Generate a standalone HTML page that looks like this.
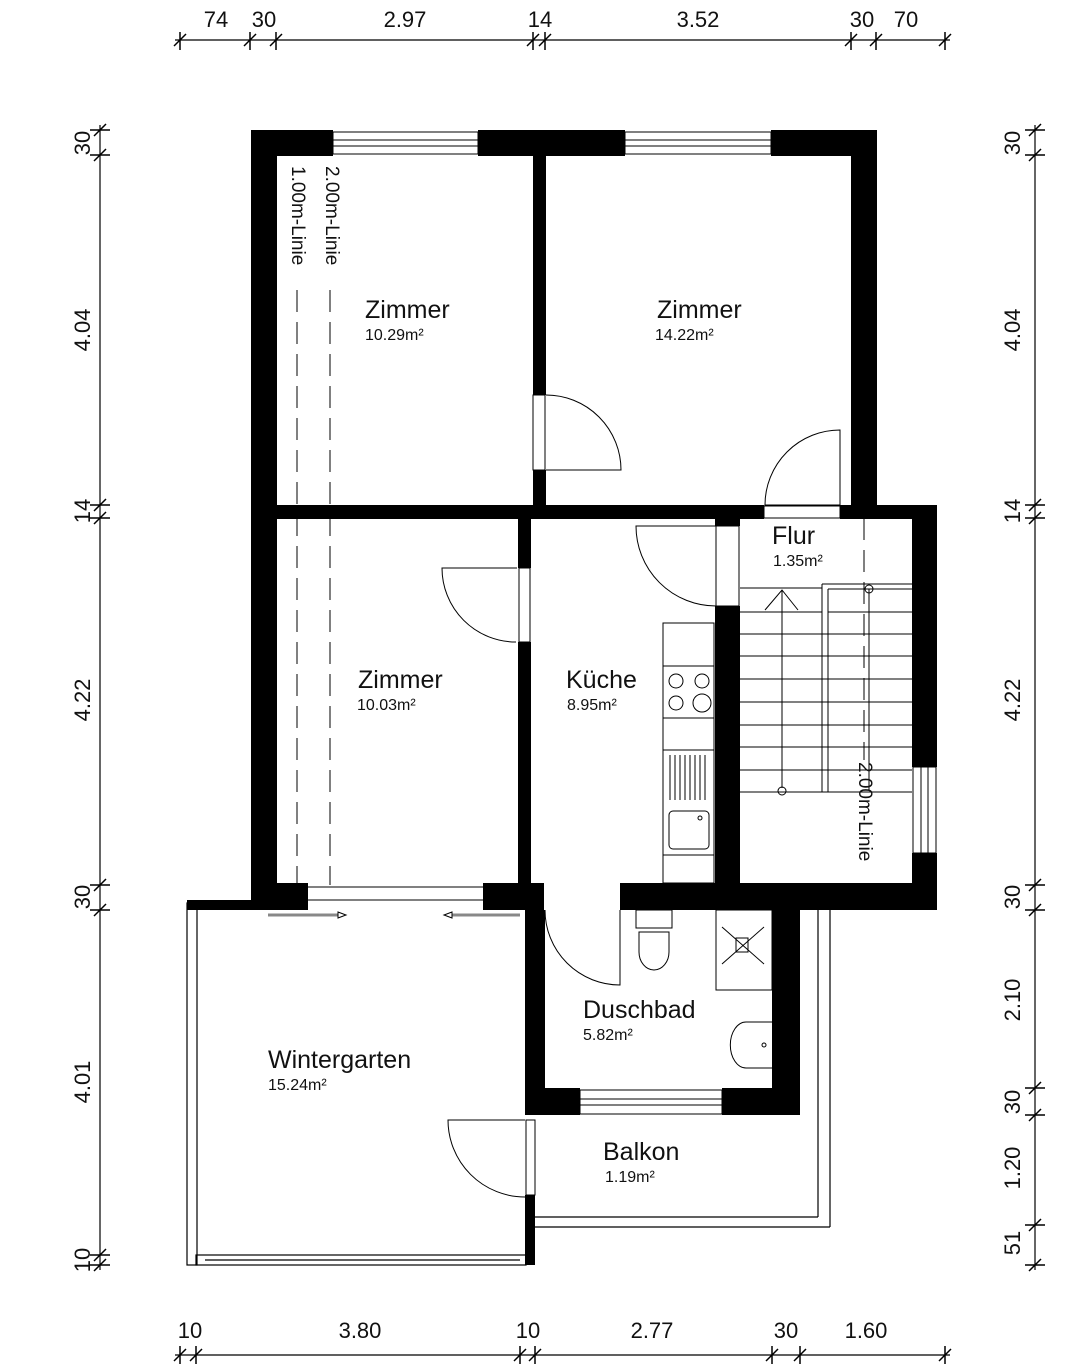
<!DOCTYPE html>
<html><head><meta charset="utf-8"><style>
html,body{margin:0;padding:0;background:#fff}
svg{display:block}
text{font-family:"Liberation Sans",sans-serif;fill:#111}
.t{font-size:25px}.a{font-size:16px}.d{font-size:22px}
</style></head><body>
<svg width="1080" height="1366" viewBox="0 0 1080 1366" xmlns="http://www.w3.org/2000/svg">
<g stroke="#000" stroke-width="1.2" fill="none">
<line x1="175" y1="40" x2="950" y2="40"/>
<g stroke-width="1.5">
<line x1="180" y1="32" x2="180" y2="50"/><line x1="174" y1="46" x2="186" y2="34"/>
<line x1="250" y1="32" x2="250" y2="50"/><line x1="244" y1="46" x2="256" y2="34"/>
<line x1="276" y1="32" x2="276" y2="50"/><line x1="270" y1="46" x2="282" y2="34"/>
<line x1="533" y1="32" x2="533" y2="50"/><line x1="527" y1="46" x2="539" y2="34"/>
<line x1="545" y1="32" x2="545" y2="50"/><line x1="539" y1="46" x2="551" y2="34"/>
<line x1="851" y1="32" x2="851" y2="50"/><line x1="845" y1="46" x2="857" y2="34"/>
<line x1="876" y1="32" x2="876" y2="50"/><line x1="870" y1="46" x2="882" y2="34"/>
<line x1="945" y1="32" x2="945" y2="50"/><line x1="939" y1="46" x2="951" y2="34"/>
</g>
<line x1="175" y1="1355" x2="950" y2="1355"/>
<g stroke-width="1.5">
<line x1="180" y1="1346" x2="180" y2="1364"/><line x1="174" y1="1361" x2="186" y2="1349"/>
<line x1="196" y1="1346" x2="196" y2="1364"/><line x1="190" y1="1361" x2="202" y2="1349"/>
<line x1="520" y1="1346" x2="520" y2="1364"/><line x1="514" y1="1361" x2="526" y2="1349"/>
<line x1="535" y1="1346" x2="535" y2="1364"/><line x1="529" y1="1361" x2="541" y2="1349"/>
<line x1="772" y1="1346" x2="772" y2="1364"/><line x1="766" y1="1361" x2="778" y2="1349"/>
<line x1="800" y1="1346" x2="800" y2="1364"/><line x1="794" y1="1361" x2="806" y2="1349"/>
<line x1="945" y1="1346" x2="945" y2="1364"/><line x1="939" y1="1361" x2="951" y2="1349"/>
</g>
<line x1="100" y1="125" x2="100" y2="1270"/>
<g stroke-width="1.5">
<line x1="90" y1="130" x2="110" y2="130"/><line x1="94" y1="136" x2="106" y2="124"/>
<line x1="90" y1="155" x2="110" y2="155"/><line x1="94" y1="161" x2="106" y2="149"/>
<line x1="90" y1="505" x2="110" y2="505"/><line x1="94" y1="511" x2="106" y2="499"/>
<line x1="90" y1="518" x2="110" y2="518"/><line x1="94" y1="524" x2="106" y2="512"/>
<line x1="90" y1="885" x2="110" y2="885"/><line x1="94" y1="891" x2="106" y2="879"/>
<line x1="90" y1="910" x2="110" y2="910"/><line x1="94" y1="916" x2="106" y2="904"/>
<line x1="90" y1="1255" x2="110" y2="1255"/><line x1="94" y1="1261" x2="106" y2="1249"/>
<line x1="90" y1="1265" x2="110" y2="1265"/><line x1="94" y1="1271" x2="106" y2="1259"/>
</g>
<line x1="1035" y1="125" x2="1035" y2="1270"/>
<g stroke-width="1.5">
<line x1="1025" y1="130" x2="1045" y2="130"/><line x1="1029" y1="136" x2="1041" y2="124"/>
<line x1="1025" y1="155" x2="1045" y2="155"/><line x1="1029" y1="161" x2="1041" y2="149"/>
<line x1="1025" y1="505" x2="1045" y2="505"/><line x1="1029" y1="511" x2="1041" y2="499"/>
<line x1="1025" y1="518" x2="1045" y2="518"/><line x1="1029" y1="524" x2="1041" y2="512"/>
<line x1="1025" y1="885" x2="1045" y2="885"/><line x1="1029" y1="891" x2="1041" y2="879"/>
<line x1="1025" y1="910" x2="1045" y2="910"/><line x1="1029" y1="916" x2="1041" y2="904"/>
<line x1="1025" y1="1088" x2="1045" y2="1088"/><line x1="1029" y1="1094" x2="1041" y2="1082"/>
<line x1="1025" y1="1115" x2="1045" y2="1115"/><line x1="1029" y1="1121" x2="1041" y2="1109"/>
<line x1="1025" y1="1225" x2="1045" y2="1225"/><line x1="1029" y1="1231" x2="1041" y2="1219"/>
<line x1="1025" y1="1265" x2="1045" y2="1265"/><line x1="1029" y1="1271" x2="1041" y2="1259"/>
</g>
</g>

<g class="d" text-anchor="middle">
<text x="216" y="27">74</text><text x="264" y="27">30</text><text x="405" y="27">2.97</text>
<text x="540" y="27">14</text><text x="698" y="27">3.52</text><text x="862" y="27">30</text><text x="906" y="27">70</text>
<text x="190" y="1338">10</text><text x="360" y="1338">3.80</text><text x="528" y="1338">10</text>
<text x="652" y="1338">2.77</text><text x="786" y="1338">30</text><text x="866" y="1338">1.60</text>
<text transform="translate(90,143) rotate(-90)">30</text>
<text transform="translate(90,330) rotate(-90)">4.04</text>
<text transform="translate(90,511) rotate(-90)">14</text>
<text transform="translate(90,700) rotate(-90)">4.22</text>
<text transform="translate(90,897) rotate(-90)">30</text>
<text transform="translate(90,1082) rotate(-90)">4.01</text>
<text transform="translate(90,1260) rotate(-90)">10</text>
<text transform="translate(1020,143) rotate(-90)">30</text>
<text transform="translate(1020,330) rotate(-90)">4.04</text>
<text transform="translate(1020,511) rotate(-90)">14</text>
<text transform="translate(1020,700) rotate(-90)">4.22</text>
<text transform="translate(1020,897) rotate(-90)">30</text>
<text transform="translate(1020,1000) rotate(-90)">2.10</text>
<text transform="translate(1020,1102) rotate(-90)">30</text>
<text transform="translate(1020,1168) rotate(-90)">1.20</text>
<text transform="translate(1020,1243) rotate(-90)">51</text>
</g>

<g fill="none" stroke="#000" stroke-width="1.2">
<rect x="187" y="903" width="10" height="362"/>
<rect x="196" y="1255" width="330" height="10"/>
<line x1="205" y1="1260" x2="520" y2="1260"/>
<line x1="535" y1="1217" x2="818" y2="1217"/>
<line x1="535" y1="1227" x2="830" y2="1227"/>
<line x1="818" y1="910" x2="818" y2="1217"/>
<line x1="830" y1="910" x2="830" y2="1227"/>
</g>

<g fill="#000">
<rect x="251" y="130" width="82" height="26"/>
<rect x="478" y="130" width="147" height="26"/>
<rect x="771" y="130" width="105" height="26"/>
<rect x="251" y="130" width="26" height="780"/>
<rect x="533" y="155" width="13" height="240"/>
<rect x="533" y="470" width="13" height="40"/>
<rect x="851" y="130" width="26" height="380"/>
<rect x="251" y="505" width="513" height="14"/>
<rect x="840" y="505" width="97" height="14"/>
<rect x="518" y="518" width="13" height="50"/>
<rect x="518" y="642" width="13" height="245"/>
<rect x="715" y="606" width="25" height="280"/>
<rect x="715" y="518" width="25" height="8"/>
<rect x="912" y="505" width="25" height="262"/>
<rect x="912" y="853" width="25" height="57"/>
<rect x="251" y="883" width="57" height="27"/>
<rect x="483" y="883" width="61" height="27"/>
<rect x="620" y="883" width="317" height="27"/>
<rect x="187" y="900" width="120" height="10"/>
<rect x="525" y="910" width="20" height="205"/>
<rect x="772" y="910" width="28" height="205"/>
<rect x="525" y="1088" width="55" height="27"/>
<rect x="722" y="1088" width="78" height="27"/>
<rect x="525" y="1195" width="10" height="70"/>
</g>

<g fill="none" stroke="#000" stroke-width="1">
<rect x="333" y="132" width="145" height="22"/><line x1="333" y1="140" x2="478" y2="140"/><line x1="333" y1="146" x2="478" y2="146"/>
<rect x="625" y="132" width="146" height="22"/><line x1="625" y1="140" x2="771" y2="140"/><line x1="625" y1="146" x2="771" y2="146"/>
<rect x="913" y="767" width="23" height="86"/><line x1="921" y1="767" x2="921" y2="853"/><line x1="928" y1="767" x2="928" y2="853"/>
<rect x="580" y="1090" width="142" height="24"/><line x1="580" y1="1099" x2="722" y2="1099"/><line x1="580" y1="1105" x2="722" y2="1105"/>
<line x1="308" y1="887" x2="483" y2="887"/><line x1="308" y1="900" x2="483" y2="900"/>
<rect x="533" y="395" width="12" height="75"/>
<rect x="764" y="506" width="76" height="12"/>
<rect x="519" y="568" width="11" height="74"/>
<rect x="716" y="526" width="23" height="80"/>
<rect x="526" y="1120" width="9" height="75"/>
<path d="M546 395 A75 75 0 0 1 621 470 L546 470"/>
<path d="M840 430 A75 75 0 0 0 765 505 L840 505 Z"/>
<path d="M517 568 L442 568 A74 74 0 0 0 516 642"/>
<path d="M716 526 L636 526 A80 80 0 0 0 716 606"/>
<path d="M545 910 A75 75 0 0 0 620 985 L620 910"/>
<path d="M525 1120 L448 1120 A77 77 0 0 0 525 1197"/>
<line x1="297" y1="290" x2="297" y2="885" stroke-dasharray="22,10"/>
<line x1="330" y1="290" x2="330" y2="885" stroke-dasharray="22,10"/>
<line x1="864" y1="518" x2="864" y2="760" stroke-dasharray="22,10"/>
<line x1="740" y1="588" x2="822" y2="588"/>
<line x1="822" y1="584" x2="912" y2="584"/>
<line x1="822" y1="584" x2="822" y2="792"/><line x1="828" y1="589" x2="828" y2="792"/>
<line x1="828" y1="589" x2="912" y2="589"/>
<g>
<line x1="740" y1="634" x2="912" y2="634"/><line x1="740" y1="656" x2="912" y2="656"/>
<line x1="740" y1="679" x2="912" y2="679"/><line x1="740" y1="702" x2="912" y2="702"/>
<line x1="740" y1="725" x2="912" y2="725"/><line x1="740" y1="747" x2="912" y2="747"/>
<line x1="740" y1="770" x2="912" y2="770"/><line x1="740" y1="792" x2="912" y2="792"/>
<line x1="740" y1="612" x2="822" y2="612"/><line x1="828" y1="612" x2="912" y2="612"/>
</g>
<line x1="782" y1="590" x2="782" y2="788"/>
<polyline points="765,610 782,590 798,610"/>
<circle cx="782" cy="791" r="4"/>
<line x1="869" y1="589" x2="869" y2="790"/>
<circle cx="869" cy="589" r="4"/>
<rect x="663" y="623" width="51" height="260"/>
<line x1="663" y1="666" x2="714" y2="666"/><line x1="663" y1="718" x2="714" y2="718"/>
<line x1="663" y1="750" x2="714" y2="750"/><line x1="663" y1="855" x2="714" y2="855"/>
<circle cx="676" cy="681" r="7"/><circle cx="702" cy="681" r="7"/>
<circle cx="676" cy="703" r="7"/><circle cx="702" cy="703" r="9"/>
<path d="M670 755v45M675 755v45M680 755v45M685 755v45M690 755v45M695 755v45M700 755v45M705 755v45"/>
<rect x="669" y="811" width="40" height="38" rx="4"/><circle cx="700" cy="818" r="2"/>
<rect x="636" y="910" width="36" height="18"/>
<path d="M639 932 h30 v20 a15 18 0 0 1 -30 0 Z"/>
<rect x="716" y="910" width="56" height="80"/>
<line x1="722" y1="927" x2="764" y2="964"/><line x1="764" y1="927" x2="722" y2="964"/>
<rect x="736" y="938" width="12" height="14"/>
<path d="M772 1022 h-26 a15 22 0 0 0 0 46 h26"/><circle cx="764" cy="1045" r="2"/>
<line x1="268" y1="915" x2="338" y2="915" stroke-width="3" stroke="#888"/>
<path d="M338 912 l8 3 -8 3 z"/>
<line x1="452" y1="915" x2="520" y2="915" stroke-width="3" stroke="#888"/>
<path d="M452 912 l-8 3 8 3 z"/>
</g>

<text class="t" x="365" y="318">Zimmer</text><text class="a" x="365" y="340">10.29m²</text>
<text class="t" x="657" y="318">Zimmer</text><text class="a" x="655" y="340">14.22m²</text>
<text class="t" x="358" y="688">Zimmer</text><text class="a" x="357" y="710">10.03m²</text>
<text class="t" x="566" y="688">Küche</text><text class="a" x="567" y="710">8.95m²</text>
<text class="t" x="772" y="544">Flur</text><text class="a" x="773" y="566">1.35m²</text>
<text class="t" x="583" y="1018">Duschbad</text><text class="a" x="583" y="1040">5.82m²</text>
<text class="t" x="268" y="1068">Wintergarten</text><text class="a" x="268" y="1090">15.24m²</text>
<text class="t" x="603" y="1160">Balkon</text><text class="a" x="605" y="1182">1.19m²</text>
<text transform="translate(292,166) rotate(90)" style="font-size:19px">1.00m-Linie</text>
<text transform="translate(326,166) rotate(90)" style="font-size:19px">2.00m-Linie</text>
<text transform="translate(859,762) rotate(90)" style="font-size:19px">2.00m-Linie</text>
</svg>
</body></html>
